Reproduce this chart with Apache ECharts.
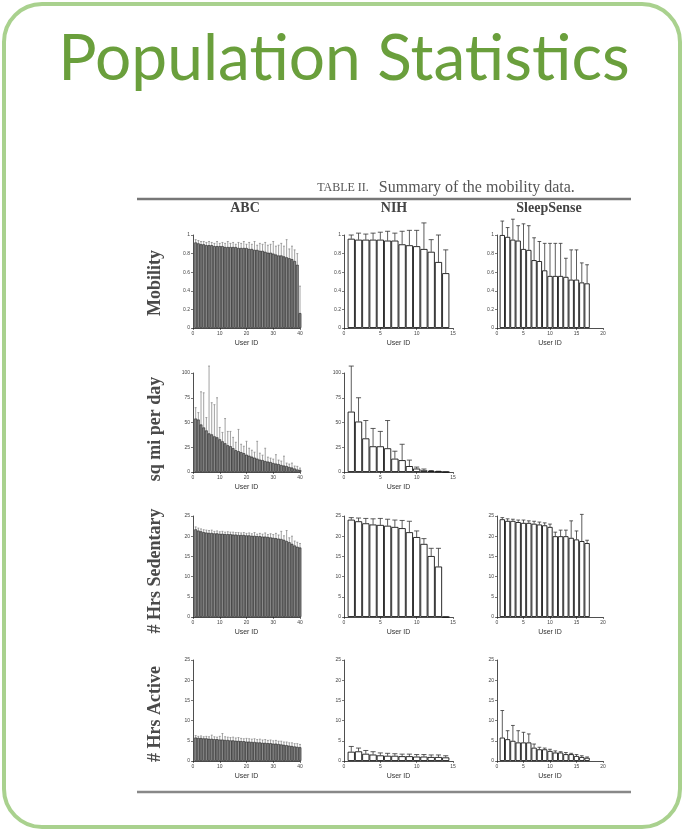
<!DOCTYPE html>
<html><head><meta charset="utf-8">
<script src="https://cdn.jsdelivr.net/npm/echarts@6/dist/echarts.min.js"></script>
<style>html,body{margin:0;padding:0;background:#fff}#c{width:684px;height:831px}</style>
</head><body><div id="c"></div>
<script>
// ---------- text ----------
const titleText = 'Population Statistics';
const captionLead = 'TABLE II.';
const captionText = 'Summary of the mobility data.';
const colLabels = ['ABC', 'NIH', 'SleepSense'];
const rowLabels = ['Mobility', 'sq mi per day', '# Hrs Sedentary', '# Hrs Active'];
const xName = 'User ID';

// ---------- data (bar value, top of error bar) ----------
const abcMobility = [0.92,0.91,0.90,0.90,0.89,0.89,0.89,0.88,0.88,0.88,0.88,0.87,0.87,0.87,0.87,0.87,0.86,0.86,0.86,0.86,0.85,0.85,0.84,0.84,0.83,0.83,0.82,0.81,0.81,0.80,0.79,0.78,0.78,0.77,0.76,0.75,0.74,0.72,0.68,0.16];
const abcMobilityErr = [0.95,0.94,0.93,0.93,0.92,0.93,0.92,0.91,0.93,0.91,0.92,0.91,0.93,0.91,0.92,0.90,0.92,0.91,0.93,0.90,0.92,0.90,0.93,0.89,0.91,0.90,0.92,0.89,0.90,0.93,0.88,0.89,0.91,0.88,0.95,0.85,0.88,0.84,0.80,0.45];
const nihMobility = [0.96,0.95,0.95,0.95,0.95,0.94,0.94,0.90,0.89,0.88,0.85,0.82,0.71,0.59];
const nihMobilityErr = [1.00,1.02,1.01,1.02,1.03,1.04,1.02,1.04,1.05,1.05,1.13,0.95,1.00,0.84];
const ssMobility = [1.00,0.98,0.95,0.94,0.85,0.84,0.73,0.72,0.62,0.56,0.56,0.56,0.55,0.52,0.52,0.49,0.48];
const ssMobilityErr = [1.15,1.08,1.17,1.10,1.12,1.10,0.97,0.93,0.91,0.91,0.91,0.91,0.75,0.84,0.84,0.70,0.68];

const abcArea = [54,53,48,45,42,39,38,36,35,33,31,29,27,26,24,22,21,20,19,17.5,16.5,15.5,14.5,13.5,12.5,12,11,10.5,10,9,8.5,8,7,6.5,6,5,4.5,3.5,2.5,2];
const abcAreaErr = [65,60,81,80,55,107,70,68,75,45,40,54,41,41,35,30,43,28,26,31,24,22,20,31,19,17,24,15,14,13,17.5,12,11,16,9,8,9,6,5.7,4];
const nihArea = [61,51,34,26,26,24,13.5,12,6,3.5,1.7,1,0.5,0];
const nihAreaErr = [107,75,52,44,41,52,21,28,12,5,3,1.5,0.8,0];

const abcSed = [21.7,21.4,21.2,21.0,20.9,20.8,20.8,20.7,20.7,20.6,20.6,20.5,20.5,20.5,20.4,20.4,20.3,20.3,20.3,20.2,20.2,20.1,20.1,20.0,20.0,19.9,19.9,19.8,19.7,19.6,19.5,19.4,19.3,19.1,18.8,18.5,18.1,17.7,17.4,17.2];
const abcSedErr = [22.3,22.0,21.8,21.6,21.5,21.4,21.5,21.2,21.3,21.1,21.2,21.0,21.1,21.0,21.0,20.9,20.9,20.8,20.9,20.7,20.8,20.6,20.9,20.5,20.7,20.5,20.8,20.4,20.6,20.4,20.7,20.3,21.2,20.1,21.4,19.6,20.0,18.8,18.5,18.2];
const nihSed = [24.1,23.7,23.2,22.9,22.8,22.6,22.3,22.0,21.0,19.8,18.1,15.1,12.5,0];
const nihSedErr = [24.6,24.5,24.4,24.3,24.4,24.2,24.0,23.9,23.7,21.3,19.4,17.0,17.0,0];
const ssSed = [24.2,23.8,23.8,23.5,23.3,23.3,23.1,22.9,22.7,22.3,20.0,20.0,20.0,19.6,19.2,18.8,18.3];
const ssSedErr = [24.6,24.3,24.2,24.0,24.0,23.8,23.7,23.5,23.3,23.0,21.0,21.5,21.5,23.8,21.3,25.4,19.0];

const abcAct = [5.8,5.7,5.7,5.6,5.6,5.5,5.5,5.4,5.4,5.3,5.3,5.2,5.2,5.1,5.1,5.0,5.0,4.9,4.9,4.8,4.8,4.7,4.7,4.6,4.6,4.5,4.5,4.4,4.4,4.3,4.3,4.2,4.1,4.0,3.9,3.8,3.7,3.6,3.5,3.4];
const abcActErr = [6.3,6.1,6.2,6.0,6.1,6.0,6.4,6.0,5.9,6.1,6.8,6.0,5.9,5.8,5.9,5.7,5.8,5.6,5.5,5.6,5.5,5.4,5.5,5.3,5.4,5.2,5.3,5.1,5.2,5.0,5.1,4.9,4.9,4.7,4.7,4.5,4.5,4.3,4.3,4.1];
const nihAct = [2.3,2.4,1.8,1.6,1.4,1.3,1.3,1.2,1.2,1.1,1.1,1.0,1.0,0.9];
const nihActErr = [3.6,3.2,2.6,2.3,2.0,1.9,1.8,1.7,1.7,1.6,1.6,1.5,1.5,1.3];
const ssAct = [5.8,5.4,5.0,4.6,4.6,4.6,3.3,2.9,2.9,2.5,2.1,2.1,1.7,1.7,1.25,1.0,0.8];
const ssActErr = [12.5,7.5,8.8,7.5,7.1,6.7,4.2,3.4,3.2,2.9,2.5,2.3,2.1,1.9,1.6,1.3,1.0];

// ---------- axis scales (x: user id range, y: value range) ----------
const xMaxByCol = [40, 15, 20];
const xStepByCol = [10, 5, 5];
const yMaxByRow = [1, 100, 25, 25];
const yStepByRow = [0.2, 25, 5, 5];

// panels: [row, col, values, error tops]
const panels = [
  [0, 0, abcMobility, abcMobilityErr],
  [0, 1, nihMobility, nihMobilityErr],
  [0, 2, ssMobility, ssMobilityErr],
  [1, 0, abcArea, abcAreaErr],
  [1, 1, nihArea, nihAreaErr],
  [2, 0, abcSed, abcSedErr],
  [2, 1, nihSed, nihSedErr],
  [2, 2, ssSed, ssSedErr],
  [3, 0, abcAct, abcActErr],
  [3, 1, nihAct, nihActErr],
  [3, 2, ssAct, ssActErr]
];

// ---------- layout (pixels) ----------
const colLeft = [193, 344, 497];
const colWidth = [107, 109, 106];
const rowTop = [235, 373, 516, 660];
const rowBottom = [328, 472, 617, 761];
const colHeaderX = [245, 394, 549];
const rowLabelY = [283, 429, 571, 714];

const grids = [], xAxes = [], yAxes = [], series = [];
panels.forEach((p, i) => {
  const [r, c, vals, errs] = p;
  const isABC = c === 0;
  grids.push({left: colLeft[c], top: rowTop[r], width: colWidth[c], height: rowBottom[r] - rowTop[r]});
  xAxes.push({
    type: 'value', gridIndex: i, min: 0, max: xMaxByCol[c], interval: xStepByCol[c],
    name: xName, nameLocation: 'middle', nameGap: 12,
    nameTextStyle: {fontSize: 7, color: '#333', fontFamily: 'Liberation Sans'},
    axisLine: {show: true, onZero: false, lineStyle: {color: '#222', width: 0.8}},
    axisTick: {show: true, length: 2, lineStyle: {color: '#222', width: 0.6}},
    axisLabel: {fontSize: 5, color: '#444', margin: 3, fontFamily: 'Liberation Sans'},
    splitLine: {show: false}
  });
  yAxes.push({
    type: 'value', gridIndex: i, min: 0, max: yMaxByRow[r], interval: yStepByRow[r],
    axisLine: {show: true, lineStyle: {color: '#222', width: 0.8}},
    axisTick: {show: true, length: 2, lineStyle: {color: '#222', width: 0.6}},
    axisLabel: {fontSize: 5, color: '#444', margin: 3, fontFamily: 'Liberation Sans'},
    splitLine: {show: false}
  });
  const unitPx = colWidth[c] / xMaxByCol[c];
  series.push({
    type: 'bar', xAxisIndex: i, yAxisIndex: i, clip: false,
    barWidth: unitPx, animation: false,
    data: vals.map((v, k) => [k + 1, v]),
    itemStyle: isABC ? {color: '#8a8a8a', borderColor: '#151515', borderWidth: 0.6}
                     : {color: '#ffffff', borderColor: '#151515', borderWidth: 0.9}
  });
  series.push({
    type: 'custom', xAxisIndex: i, yAxisIndex: i, clip: false, animation: false,
    data: vals.map((v, k) => [k + 1, v, errs[k]]),
    renderItem: (params, api) => {
      const x = api.value(0), lo = api.value(1), hi = api.value(2);
      const a = api.coord([x, lo]), b = api.coord([x, hi]);
      const half = api.size([0.35, 0])[0];
      const st = {stroke: isABC ? '#8a8a8a' : '#333', lineWidth: 0.8};
      return {type: 'group', children: [
        {type: 'line', shape: {x1: a[0], y1: a[1], x2: b[0], y2: b[1]}, style: st},
        {type: 'line', shape: {x1: b[0] - half, y1: b[1], x2: b[0] + half, y2: b[1]}, style: st}
      ]};
    }
  });
});

const graphics = [
  {type: 'rect', shape: {x: 4, y: 4, width: 676, height: 823, r: 38},
   style: {fill: 'none', stroke: '#a9d18e', lineWidth: 4}, z: 10},
  {type: 'text', x: 344, y: 59, style: {text: titleText, font: '64px Lato', fill: '#6a9f3c', align: 'center', verticalAlign: 'middle'}},
  {type: 'text', x: 446, y: 188, style: {
    text: '{a|' + captionLead + '}   {b|' + captionText + '}', align: 'center', verticalAlign: 'middle',
    rich: {a: {fontSize: 12, fontFamily: 'Liberation Serif', fill: '#555'}, b: {fontSize: 16, fontFamily: 'Liberation Serif', fill: '#555'}}}},
  {type: 'line', shape: {x1: 137, y1: 199, x2: 631, y2: 199}, style: {stroke: '#777', lineWidth: 2.5}},
  {type: 'line', shape: {x1: 137, y1: 792, x2: 631, y2: 792}, style: {stroke: '#888', lineWidth: 2.5}}
];
colLabels.forEach((t, c) => graphics.push({type: 'text', x: colHeaderX[c], y: 208,
  style: {text: t, font: 'bold 14px "Liberation Serif"', fill: '#444', align: 'center', verticalAlign: 'middle'}}));
rowLabels.forEach((t, r) => graphics.push({type: 'text', x: 155, y: rowLabelY[r], rotation: Math.PI / 2,
  style: {text: t, font: 'bold 18px "Liberation Serif"', fill: '#4a4a4a', align: 'center', verticalAlign: 'middle'}}));

const chart = echarts.init(document.getElementById('c'), null, {renderer: 'canvas'});
chart.setOption({
  backgroundColor: '#fff', animation: false,
  grid: grids, xAxis: xAxes, yAxis: yAxes, series: series, graphic: graphics
});
</script></body></html>
